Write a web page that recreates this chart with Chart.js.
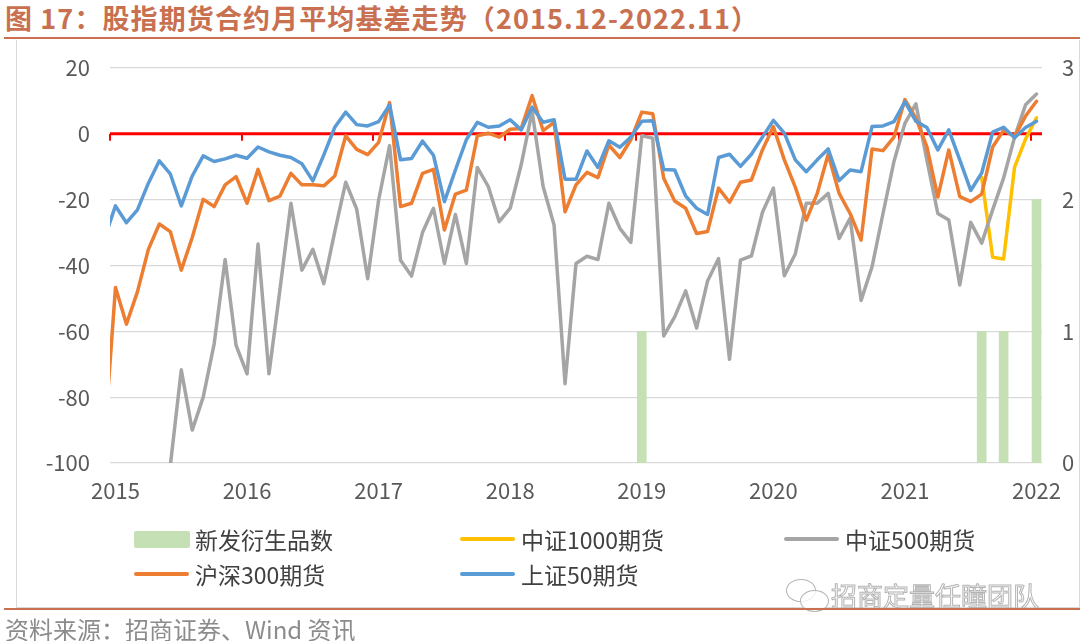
<!DOCTYPE html>
<html>
<head>
<meta charset="utf-8">
<script src="https://cdn.jsdelivr.net/npm/chart.js@4.4.1/dist/chart.umd.min.js"></script>
<style>
  html, body { margin: 0; padding: 0; background: #fff; }
  body { width: 1080px; height: 641px; position: relative; overflow: hidden;
         font-family: "Noto Sans CJK SC", "Noto Sans", sans-serif; }
  #title { position: absolute; left: 5px; top: 0; font-size: 27px; font-weight: bold;
           color: #c8704f; white-space: nowrap; line-height: 36px; letter-spacing: 1.1px; }
  #ruleTop { position: absolute; left: 4px; right: 0; top: 37px; height: 2px; background: #c8704f; }
  #frame { position: absolute; left: 16px; top: 40px; width: 1064px; height: 568px;
           border-left: 1.5px solid #d9d9d9; border-right: 1.5px solid #d9d9d9;
           border-bottom: 1.5px solid #d9d9d9; box-sizing: border-box; }
  #ruleBottom { position: absolute; left: 4px; right: 0; top: 608px; height: 2px; background: #c8704f; }
  #source { position: absolute; left: 5px; top: 615px; font-size: 24px; color: #8c8c8c;
            line-height: 28px; white-space: nowrap; }
  #chart { position: absolute; left: 0; top: 0; }
  .lgItem { position: absolute; height: 30px; }
  .lgSwatch { position: absolute; left: 0; }
  .lgText { position: absolute; top: 0; font-size: 23px; line-height: 30px; color: #404040; white-space: nowrap; }
  #mark { position: absolute; left: 831px; top: 579px; font-size: 26px; line-height: 32px; white-space: nowrap;
          color: rgba(255,255,255,0.7); -webkit-text-stroke: 1px #b4b4b4; }
  .bubble { position: absolute; border: 1.5px solid #b4b4b4; border-radius: 50%; background: rgba(255,255,255,0.8); }
</style>
</head>
<body>
<div id="title">图 17：股指期货合约月平均基差走势（2015.12-2022.11）</div>
<div id="ruleTop"></div>
<div id="frame"></div>
<canvas id="chart" width="1080" height="641"></canvas>
<div id="legend"></div>
<div class="bubble" style="left:786px;top:579px;width:28px;height:21px;"></div>
<div class="bubble" style="left:800px;top:590px;width:27px;height:20px;"></div>
<div id="mark">招商定量任瞳团队</div>
<div id="ruleBottom"></div>
<div id="source">资料来源：招商证券、Wind 资讯</div>

<script>
// months from 2015.11 (only its line segment is visible) to 2022.12
const months = [];
for (let y = 2015; y <= 2022; y++) {
  for (let m = 1; m <= 12; m++) {
    if (y === 2015 && m < 11) continue;
    months.push(y + '.' + m);
  }
}
const yearLabels = ['2015', '2016', '2017', '2018', '2019', '2020', '2021', '2022'];

const newDerivs = [null,
  null, null, null, null, null, null, null, null, null, null, null, null,
  null, null, null, null, null, null, null, null, null, null, null, null,
  null, null, null, null, null, null, null, null, null, null, null, null,
  null, null, null, null, null, null, null, null, null, null, null, null,
  1, null, null, null, null, null, null, null, null, null, null, null,
  null, null, null, null, null, null, null, null, null, null, null, null,
  null, null, null, null, null, null, null, 1, null, 1, null, null, 2];

const csi1000 = [null,
  null, null, null, null, null, null, null, null, null, null, null, null,
  null, null, null, null, null, null, null, null, null, null, null, null,
  null, null, null, null, null, null, null, null, null, null, null, null,
  null, null, null, null, null, null, null, null, null, null, null, null,
  null, null, null, null, null, null, null, null, null, null, null, null,
  null, null, null, null, null, null, null, null, null, null, null, null,
  null, null, null, null, null, null, null, -13.3, -37.5, -38, -10.1, -1.6, 4.9];

const csi500 = [null,
  null, null, null, null, null, -100.8, -71.7, -90, -80, -63.8, -38.2, -64.3,
  -72.9, -33.5, -72.9, -47.3, -21.1, -41.4, -35.1, -45.5, -29.7, -14.7, -22.9, -44,
  -20.1, -3.6, -38.4, -43.2, -30, -22.6, -39.4, -24.5, -39.4, -10.2, -16, -26.7,
  -22.6, -9.4, 6.8, -16, -27.7, -75.9, -39.4, -37.2, -38.2, -21.1, -28.7, -33,
  -0.6, -1.3, -61.4, -55.6, -47.7, -59, -44.7, -37.9, -68.5, -38.4, -37.1, -23.9,
  -16.5, -43.1, -36.5, -21.1, -21.1, -18.1, -31.8, -25.7, -50.6, -40.4, -24.2, -8.4,
  3.2, 9.1, -7.9, -24.2, -26.2, -45.9, -26.9, -33.2, -23.1, -13.4, -1, 8.8, 12.1];

const hs300 = [-92.6,
  -46.7, -57.8, -48, -35.1, -27.4, -29.7, -41.4, -31.5, -19.9, -22.1, -15.5, -13,
  -21.1, -10.8, -20.3, -18.9, -12, -15.5, -15.5, -15.8, -12.8, -0.6, -4.7, -6.3,
  -2.6, 9.5, -22.1, -21.1, -12, -10.8, -29.2, -18.3, -17.1, -0.6, 0.2, -1,
  1.4, 1.6, 11.6, 1, 3.5, -23.7, -15.5, -11.7, -13.3, -3.4, -7.2, -1.8,
  6.6, 6.1, -13.5, -20.4, -22.6, -30.3, -29.7, -16.5, -20.8, -14.7, -14, -4.9,
  2.2, -7.9, -16.2, -26.2, -18.1, -6.2, -18.1, -24.2, -32.3, -4.6, -5.1, -1,
  10.4, 4.8, -3.9, -19.2, -4.9, -19.1, -20.6, -18.3, -4, 1.1, -0.8, 5.4, 9.9];

const sz50 = [-31.7,
  -21.9, -27, -23.1, -15, -8.2, -12.2, -21.9, -12.8, -6.7, -8.4, -7.6, -6.5,
  -7.4, -4, -5.5, -6.5, -7.2, -9.1, -14.3, -6.4, 2, 6.6, 2.8, 2.4,
  3.7, 8.8, -7.9, -7.5, -2.2, -6.5, -20.6, -11, -1.8, 3.5, 2, 2.4,
  4.3, 1.2, 8.1, 3.5, 4.3, -13.8, -13.8, -5.2, -10.2, -2.1, -4.1, -1,
  3.8, 4, -10.8, -11, -18.9, -22.6, -24.5, -7.2, -6.2, -9.9, -6.2, -1,
  4.1, 0.2, -7.9, -11.5, -7.9, -4.6, -14.2, -11, -11.5, 2.2, 2.4, 3.7,
  9.8, 3.8, 1.9, -4.9, 1.2, -7.9, -17.2, -11.9, 0.5, 2, -1.2, 1.9, 3.8];

const toXY = arr => arr.map((v, k) => ({ x: k, y: v }));

// red axis line at 0 with year tick marks
const zeroAxis = {
  id: 'zeroAxis',
  beforeDatasetsDraw(chart) {
    const { ctx, chartArea, scales: { x, y } } = chart;
    const y0 = y.getPixelForValue(0);
    ctx.save();
    ctx.strokeStyle = '#ff0000';
    ctx.lineWidth = 3;
    ctx.beginPath();
    ctx.moveTo(chartArea.left, y0);
    ctx.lineTo(chartArea.right, y0);
    ctx.stroke();
    ctx.lineWidth = 2;
    ctx.beginPath();
    yearLabels.forEach((lab, j) => {
      const px = Math.round(x.getPixelForValue(0.5 + 12 * j));
      ctx.moveTo(px, y0);
      ctx.lineTo(px, y0 + 7);
    });
    ctx.stroke();
    ctx.restore();
  }
};

const lineStyle = {
  type: 'line', yAxisID: 'y', borderWidth: 3.5, pointRadius: 0, tension: 0,
  borderJoinStyle: 'round', borderCapStyle: 'round', clip: 0, spanGaps: false
};

const tickFont = { family: '"Noto Sans CJK SC", "Noto Sans", sans-serif', size: 22 };

const chart = new Chart(document.getElementById('chart').getContext('2d'), {
  data: {
    datasets: [
      { type: 'bar', label: '新发衍生品数', data: toXY(newDerivs), yAxisID: 'y1',
        backgroundColor: '#c5e0b4', barThickness: 9, order: 5 },
      Object.assign({ label: '中证1000期货', data: toXY(csi1000), borderColor: '#ffc000', order: 4 }, lineStyle),
      Object.assign({ label: '中证500期货', data: toXY(csi500), borderColor: '#a5a5a5', order: 3 }, lineStyle),
      Object.assign({ label: '沪深300期货', data: toXY(hs300), borderColor: '#ed7d31', order: 2 }, lineStyle),
      Object.assign({ label: '上证50期货', data: toXY(sz50), borderColor: '#5b9bd5', order: 1 }, lineStyle)
    ]
  },
  options: {
    responsive: false,
    animation: false,
    layout: { padding: { left: 0, right: 0, top: 68, bottom: 138 } },
    plugins: { legend: { display: false }, tooltip: { enabled: false } },
    scales: {
      x: {
        type: 'linear', min: 0.5, max: months.length - 0.5, offset: false,
        afterBuildTicks: s => { s.ticks = yearLabels.map((lab, j) => ({ value: 1 + 12 * j })); },
        afterFit: s => { s.height = 40; },
        grid: { display: false, offset: false },
        border: { display: false },
        ticks: {
          autoSkip: false, maxRotation: 0, padding: 6, color: '#595959', font: tickFont,
          callback: v => yearLabels[Math.round((v - 1) / 12)]
        }
      },
      y: {
        position: 'left', min: -100, max: 20,
        afterFit: s => { s.width = 110; },
        grid: { color: '#d9d9d9', lineWidth: 1.3, drawTicks: false },
        border: { display: false },
        ticks: { stepSize: 20, padding: 20, color: '#595959', font: tickFont }
      },
      y1: {
        position: 'right', min: 0, max: 3,
        afterFit: s => { s.width = 38; },
        grid: { display: false, drawTicks: false },
        border: { display: false },
        ticks: { stepSize: 1, padding: 20, color: '#595959', font: tickFont }
      }
    }
  },
  plugins: [zeroAxis]
});

// legend laid out in Excel-like columns
const legendSpots = [[134, 539], [460, 539], [784, 539], [134, 574], [460, 574]];
const legendBox = document.getElementById('legend');
chart.data.datasets.forEach((ds, i) => {
  const [lx, ly] = legendSpots[i];
  const item = document.createElement('div');
  item.className = 'lgItem';
  item.style.left = lx + 'px';
  item.style.top = (ly - 15) + 'px';
  const sw = document.createElement('div');
  sw.className = 'lgSwatch';
  if (ds.type === 'bar') {
    Object.assign(sw.style, { top: '7px', width: '56px', height: '17px', background: ds.backgroundColor, borderRadius: '2px' });
  } else {
    Object.assign(sw.style, { top: '13px', width: '55px', height: '4px', background: ds.borderColor, borderRadius: '2px' });
  }
  const tx = document.createElement('div');
  tx.className = 'lgText';
  tx.style.left = '61px';
  tx.textContent = ds.label;
  item.appendChild(sw);
  item.appendChild(tx);
  legendBox.appendChild(item);
});
</script>
</body>
</html>
